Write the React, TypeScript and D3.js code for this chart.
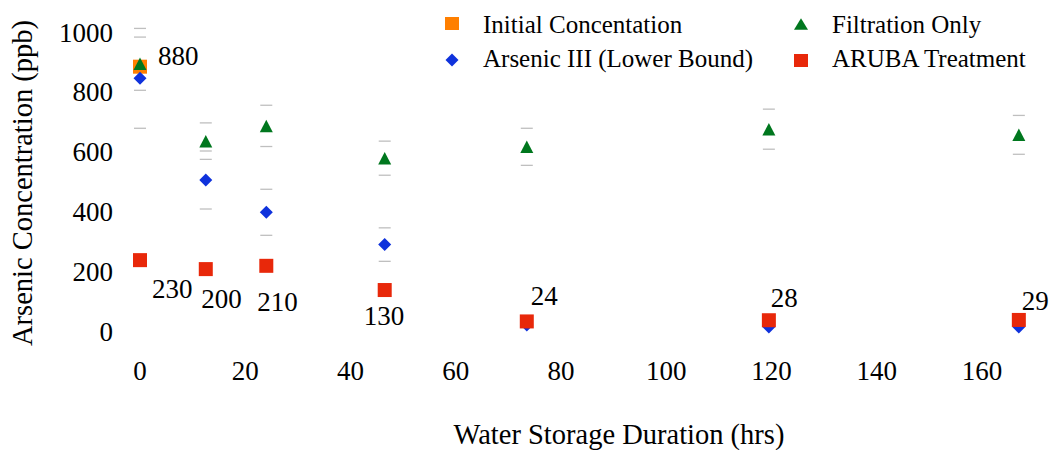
import React from "react";
import * as d3 from "d3";

const hours = [0, 12.5, 24, 46.5, 73.5, 119.5, 167];
const initialHours = [0];
const initialValues = [884];
const initialLabels = ["880"];
const filtrationValues = [894, 635, 686, 578, 616, 675, 656];
const filtrationErr = [89, 61, 69, 57, 62, 67, 65];
const arsenicValues = [845, 505, 397, 289, 20, 13, 13];
const arsenicErr = [167, 97, 77, 56, 0, 0, 0];
const arubaValues = [237, 207, 218, 137, 32, 36, 37];
const arubaLabels = ["230", "200", "210", "130", "24", "28", "29"];
const xTicks = [0, 20, 40, 60, 80, 100, 120, 140, 160];
const yTicks = [0, 200, 400, 600, 800, 1000];
const legendNames = ["Initial Concentation", "Filtration Only", "Arsenic III (Lower Bound)", "ARUBA Treatment"];

// label offsets relative to the marker (layout only)
const initialLabelOffsets: [number, number][] = [[18, -2]];
const arubaLabelOffsets: [number, number][] = [
  [12, 38], [-4.5, 39], [-9, 45], [-21, 35], [4, -16], [2, -13.6], [3, -10],
];

const C_ORANGE = "#FF7F00";
const C_GREEN = "#00771E";
const C_BLUE = "#0F32DC";
const C_RED = "#E8280A";
const FONT = "'Liberation Serif', 'Times New Roman', serif";

export default function App() {
  const W = 1050, H = 450;
  const x = d3.scaleLinear().domain([0, 160]).range([140, 982]);
  const y = d3.scaleLinear().domain([0, 1000]).range([331, 32]);
  const tri = (hw: number, h: number) => `M0,${-h / 2}L${hw},${h / 2}L${-hw},${h / 2}Z`;
  const diamond = (sx: number, sy: number) => `M0,${-sy}L${sx},0L0,${sy}L${-sx},0Z`;
  const capW = 6;

  return (
    <svg width={W} height={H} style={{ position: "absolute", left: 0, top: 0, background: "#fff" }} fontFamily={FONT}>
      {/* y ticks */}
      {yTicks.map((t) => (
        <text key={"y" + t} x={113} y={y(t) + 9.5} textAnchor="end" fontSize={27} fill="#000">{t}</text>
      ))}
      {/* x ticks */}
      {xTicks.map((t) => (
        <text key={"x" + t} x={x(t)} y={380} textAnchor="middle" fontSize={27} fill="#000">{t}</text>
      ))}
      <text x={619} y={444} textAnchor="middle" fontSize={28.5}>Water Storage Duration (hrs)</text>
      <text transform={`translate(32,183) rotate(-90)`} textAnchor="middle" fontSize={28.5}>Arsenic Concentration (ppb)</text>

      {/* error bar caps */}
      {hours.map((h, i) => (
        <g key={"fe" + i} stroke="#BFBFBF" strokeWidth={1.3}>
          <line x1={x(h) - capW} x2={x(h) + capW} y1={y(filtrationValues[i] + filtrationErr[i])} y2={y(filtrationValues[i] + filtrationErr[i])} />
          <line x1={x(h) - capW} x2={x(h) + capW} y1={y(filtrationValues[i] - filtrationErr[i])} y2={y(filtrationValues[i] - filtrationErr[i])} />
        </g>
      ))}
      {hours.map((h, i) => arsenicErr[i] > 0 ? (
        <g key={"ae" + i} stroke="#BFBFBF" strokeWidth={1.3}>
          <line x1={x(h) - capW} x2={x(h) + capW} y1={y(arsenicValues[i] + arsenicErr[i])} y2={y(arsenicValues[i] + arsenicErr[i])} />
          <line x1={x(h) - capW} x2={x(h) + capW} y1={y(arsenicValues[i] - arsenicErr[i])} y2={y(arsenicValues[i] - arsenicErr[i])} />
        </g>
      ) : null)}

      {/* initial */}
      {initialHours.map((h, i) => (
        <g key={"in" + i}>
          <rect x={x(h) - 7} y={y(initialValues[i]) - 7} width={14} height={14} fill={C_ORANGE} />
          <text x={x(h) + initialLabelOffsets[i][0]} y={y(initialValues[i]) + initialLabelOffsets[i][1]} fontSize={27}>{initialLabels[i]}</text>
        </g>
      ))}
      {/* arsenic III */}
      {hours.map((h, i) => (
        <path key={"as" + i} d={diamond(6.5, 6.5)} transform={`translate(${x(h)},${y(arsenicValues[i])})`} fill={C_BLUE} />
      ))}
      {/* filtration */}
      {hours.map((h, i) => (
        <path key={"fi" + i} d={tri(6.5, 12.5)} transform={`translate(${x(h)},${y(filtrationValues[i])})`} fill={C_GREEN} />
      ))}
      {/* aruba */}
      {hours.map((h, i) => (
        <g key={"ar" + i}>
          <rect x={x(h) - 7} y={y(arubaValues[i]) - 7} width={14} height={14} fill={C_RED} />
          <text x={x(h) + arubaLabelOffsets[i][0]} y={y(arubaValues[i]) + arubaLabelOffsets[i][1]} fontSize={27}>{arubaLabels[i]}</text>
        </g>
      ))}

      {/* legend */}
      <rect x={445} y={17} width={14} height={13} fill={C_ORANGE} />
      <text x={483} y={33} fontSize={25}>{legendNames[0]}</text>
      <path d={tri(7, 11.5)} transform="translate(801,24)" fill={C_GREEN} />
      <text x={832} y={33} fontSize={25}>{legendNames[1]}</text>
      <path d={diamond(6.5, 6.5)} transform="translate(452,60)" fill={C_BLUE} />
      <text x={483} y={67} fontSize={25}>{legendNames[2]}</text>
      <rect x={794} y={54} width={14} height={13} fill={C_RED} />
      <text x={832} y={67} fontSize={25}>{legendNames[3]}</text>
    </svg>
  );
}
